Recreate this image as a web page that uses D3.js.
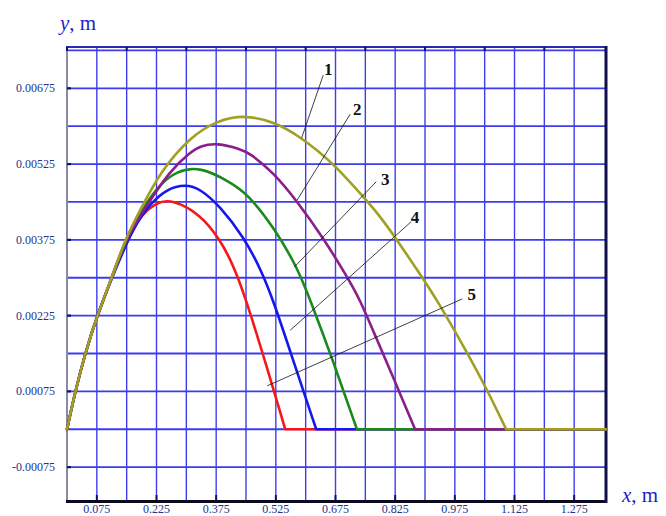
<!DOCTYPE html>
<html>
<head>
<meta charset="utf-8">
<script src="https://cdn.jsdelivr.net/npm/d3@7/dist/d3.min.js"></script>
<style>
  body { margin: 0; background: #fff; }
  svg { display: block; }
</style>
</head>
<body>
<div id="chart"></div>
<script>
// tick labels
const xTicks = [0.075, 0.225, 0.375, 0.525, 0.675, 0.825, 0.975, 1.125, 1.275]
const yTicks = [-0.00075, 0.00075, 0.00225, 0.00375, 0.00525, 0.00675]

// curves, [x, y] in metres
const curve1 = [[0, 0], [0.021, 0.00076], [0.046, 0.00151], [0.0736, 0.0022], [0.1138, 0.00302],
  [0.1465, 0.00377], [0.1842, 0.00434], [0.2345, 0.0051], [0.3098, 0.00579], [0.377, 0.00611],
  [0.4458, 0.00623], [0.5278, 0.00607], [0.5863, 0.00578], [0.6283, 0.00553], [0.67, 0.00525],
  [0.7454, 0.0046], [0.7874, 0.00421], [0.8208, 0.00385], [0.8962, 0.00297], [0.9299, 0.00256],
  [1.0053, 0.00153], [1.0556, 0.00079], [1.104, 0], [1.355, 0]]
const curve2 = [[0, 0], [0.021, 0.00076], [0.046, 0.00151], [0.0736, 0.0022], [0.1138, 0.00302],
  [0.147, 0.00375], [0.1925, 0.00434], [0.2596, 0.00513], [0.3098, 0.00548], [0.335, 0.00561],
  [0.377, 0.00567], [0.4355, 0.00555], [0.4606, 0.00546], [0.519, 0.00508], [0.578, 0.00452],
  [0.645, 0.00378], [0.704, 0.00302], [0.737, 0.00256], [0.776, 0.00183], [0.8226, 0.00098],
  [0.875, 0], [1.355, 0]]
const curve3 = [[0, 0], [0.021, 0.00076], [0.046, 0.00151], [0.0736, 0.0022], [0.1138, 0.00302],
  [0.147, 0.00372], [0.184, 0.00428], [0.226, 0.0048], [0.276, 0.00512], [0.335, 0.0052],
  [0.411, 0.00489], [0.4524, 0.00467], [0.519, 0.00401], [0.578, 0.00322], [0.6115, 0.00256],
  [0.67, 0.00133], [0.7288, 0], [1.355, 0]]
const curve4 = [[0, 0], [0.021, 0.00076], [0.046, 0.00151], [0.0736, 0.0022], [0.1138, 0.00302],
  [0.1674, 0.00401], [0.2093, 0.00447], [0.2513, 0.00476], [0.2973, 0.00485], [0.335, 0.00476],
  [0.3853, 0.00441], [0.4438, 0.00381], [0.4858, 0.00319], [0.5185, 0.00256], [0.5724, 0.00127],
  [0.6265, 0], [1.355, 0]]
const curve5 = [[0, 0], [0.021, 0.00076], [0.046, 0.00151], [0.0736, 0.0022], [0.1138, 0.00302],
  [0.1422, 0.00368], [0.1842, 0.00423], [0.2262, 0.0045], [0.2639, 0.00455], [0.335, 0.00426],
  [0.3853, 0.00375], [0.4179, 0.00325], [0.4481, 0.00262], [0.4984, 0.00134], [0.5486, 0], [1.355, 0]]

// curve numbers and their leader lines: label pos, line start, line end
const labelNames = ['1', '2', '3', '4', '5']
const labelPos = [[0.6567, 0.00701], [0.7296, 0.00622], [0.800, 0.00484], [0.8747, 0.00409], [1.0173, 0.00256]]
const leaderFrom = [[0.6441, 0.00701], [0.712, 0.00624], [0.7773, 0.0049], [0.8653, 0.00411], [0.9935, 0.00258]]
const leaderTo = [[0.590, 0.00577], [0.5788, 0.00454], [0.5712, 0.00321], [0.5612, 0.00196], [0.5034, 0.00086]]

const width = 666, height = 516

const x = d3.scaleLinear().domain([0, 1.355]).range([67, 606])
const y = d3.scaleLinear().domain([-0.00143, 0.00757]).range([501.5, 46.9])

// plain hyphen for negatives, like the original
const fmt = d3.formatLocale({ decimal: '.', thousands: ',', grouping: [3], currency: ['', ''], minus: '-' }).format

const svg = d3.select('#chart').append('svg')
  .attr('width', width)
  .attr('height', height)

// grid
const gridBlue = '#3d3def'
svg.append('g').selectAll('line')
  .data(d3.range(1, 18).map(i => i * 0.075))
  .enter().append('line')
  .attr('x1', d => x(d)).attr('x2', d => x(d))
  .attr('y1', y.range()[1]).attr('y2', y.range()[0])
  .style('stroke', gridBlue).style('stroke-width', 1.4)

svg.append('g').selectAll('line')
  .data(d3.range(-1, 11).map(i => i * 0.00075))
  .enter().append('line')
  .attr('x1', x.range()[0]).attr('x2', x.range()[1])
  .attr('y1', d => y(d)).attr('y2', d => y(d))
  .style('stroke', gridBlue).style('stroke-width', 1.8)

// frame
svg.append('line').attr('x1', 67).attr('x2', 67).attr('y1', 47).attr('y2', 501.5)
  .style('stroke', '#8a8aa8').style('stroke-width', 2)
svg.append('line').attr('x1', 66).attr('x2', 607).attr('y1', 47).attr('y2', 47)
  .style('stroke', '#2a2ab0').style('stroke-width', 2)
svg.append('line').attr('x1', 66).attr('x2', 607).attr('y1', 501.5).attr('y2', 501.5)
  .style('stroke', '#0a0a20').style('stroke-width', 3)
svg.append('line').attr('x1', 606).attr('x2', 606).attr('y1', 46).attr('y2', 503)
  .style('stroke', '#10104a').style('stroke-width', 3)

// tick marks
svg.append('g').selectAll('line')
  .data(yTicks).enter().append('line')
  .attr('x1', 67).attr('x2', 71)
  .attr('y1', d => y(d)).attr('y2', d => y(d))
  .style('stroke', '#101070').style('stroke-width', 2.2)

svg.append('g').selectAll('line')
  .data(xTicks).enter().append('line')
  .attr('x1', d => x(d)).attr('x2', d => x(d))
  .attr('y1', 500).attr('y2', 495)
  .style('stroke', '#101070').style('stroke-width', 2)

svg.append('g').selectAll('line')
  .data(d3.range(0, 9).map(i => i * 0.15)).enter().append('line')
  .attr('x1', d => x(d)).attr('x2', d => x(d))
  .attr('y1', 47).attr('y2', 51)
  .style('stroke', '#101070').style('stroke-width', 2)

// tick labels
svg.append('g').selectAll('text')
  .data(yTicks).enter().append('text')
  .attr('x', 55)
  .attr('y', d => y(d) + 4)
  .attr('text-anchor', 'end')
  .style('font-family', 'Liberation Serif')
  .style('font-size', '12px')
  .style('fill', '#22338f')
  .text(d => fmt('.5f')(d))

svg.append('g').selectAll('text')
  .data(xTicks).enter().append('text')
  .attr('x', d => x(d))
  .attr('y', 513)
  .attr('text-anchor', 'middle')
  .style('font-family', 'Liberation Serif')
  .style('font-size', '12px')
  .style('fill', '#22338f')
  .text(d => fmt('.3f')(d))

// axis titles
const yTitle = svg.append('text')
  .attr('x', 60).attr('y', 30)
  .style('font-family', 'Liberation Serif')
  .style('font-size', '21px')
  .style('fill', '#1f1fc8')
yTitle.append('tspan').style('font-style', 'italic').text('y')
yTitle.append('tspan').text(', m')

const xTitle = svg.append('text')
  .attr('x', 622).attr('y', 502)
  .style('font-family', 'Liberation Serif')
  .style('font-size', '21px')
  .style('fill', '#1f1fc8')
xTitle.append('tspan').style('font-style', 'italic').text('x')
xTitle.append('tspan').text(', m')

// curves: smooth flight part up to landing, then straight along y = 0
const smooth = d3.line()
  .x(d => x(d[0]))
  .y(d => y(d[1]))
  .curve(d3.curveBasis)
const straight = d3.line()
  .x(d => x(d[0]))
  .y(d => y(d[1]))

function curvePath(data) {
  const k = data.findIndex((d, i) => i > 0 && d[1] === 0)
  return smooth(data.slice(0, k + 1)) + straight(data.slice(k))
}

// number 1 drawn last so it sits on top
const curves = [
  { data: curve5, color: '#f41818' },
  { data: curve4, color: '#1616ee' },
  { data: curve3, color: '#1a8a1a' },
  { data: curve2, color: '#8a1e8a' },
  { data: curve1, color: '#a0a022' },
]

svg.append('g').selectAll('path')
  .data(curves).enter().append('path')
  .attr('d', d => curvePath(d.data))
  .style('fill', 'none')
  .style('stroke', d => d.color)
  .style('stroke-width', 2.6)
  .style('stroke-linejoin', 'round')
  .style('stroke-linecap', 'round')

// leader lines and numbers
svg.append('g').selectAll('line')
  .data(labelNames).enter().append('line')
  .attr('x1', (d, i) => x(leaderFrom[i][0])).attr('y1', (d, i) => y(leaderFrom[i][1]))
  .attr('x2', (d, i) => x(leaderTo[i][0])).attr('y2', (d, i) => y(leaderTo[i][1]))
  .style('stroke', '#111').style('stroke-width', 0.8)

svg.append('g').selectAll('text')
  .data(labelNames).enter().append('text')
  .attr('x', (d, i) => x(labelPos[i][0]))
  .attr('y', (d, i) => y(labelPos[i][1]))
  .attr('text-anchor', 'middle')
  .style('font-family', 'Liberation Serif')
  .style('font-weight', 'bold')
  .style('font-size', '17px')
  .style('fill', '#111')
  .text(d => d)
</script>
</body>
</html>
